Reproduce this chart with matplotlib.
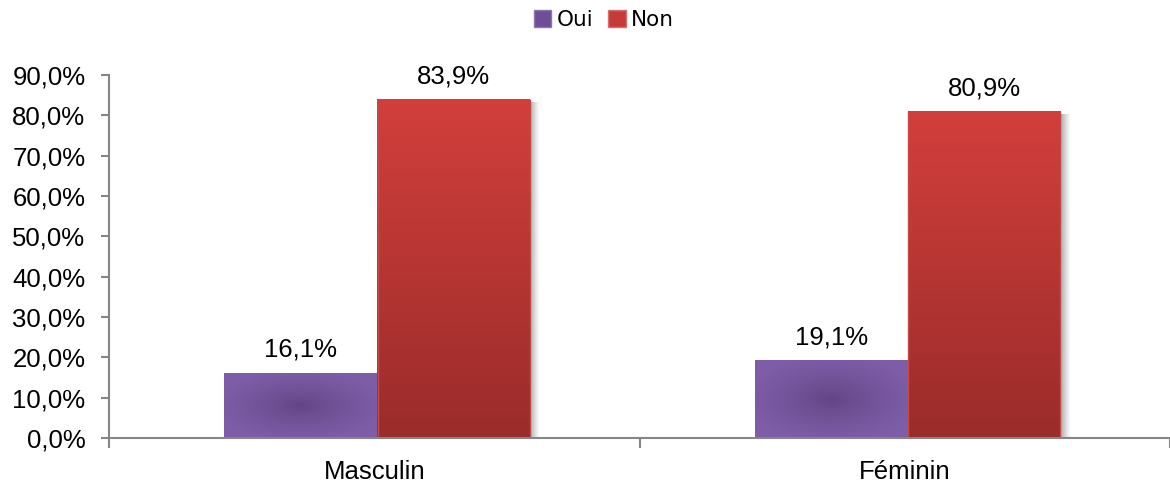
import numpy as np
import matplotlib
matplotlib.use("Agg")
import matplotlib.pyplot as plt
from matplotlib.patches import Patch
from matplotlib.colors import to_rgb

categories = ["Masculin", "Féminin"]
series_names = ["Oui", "Non"]
oui = [16.1, 19.1]
non = [83.9, 80.9]
yticks = [0, 10, 20, 30, 40, 50, 60, 70, 80, 90]

plt.rcParams['font.family'] = ['Liberation Sans', 'DejaVu Sans']
FS = 18.5

fig = plt.figure(figsize=(11.7, 4.84), dpi=100)
ax = fig.add_axes([109/1170, 46/484, 1061/1170, 363/484])

px_per_x = 1061 / len(categories)
px_per_y = 363 / 90

xc = np.arange(len(categories)) + 0.5 + 3 / px_per_x
w = 0.288
ax.set_xlim(0, len(categories))
ax.set_ylim(0, 90)

purple_c = np.array(to_rgb("#624584"))
purple_e = np.array(to_rgb("#7E5DA8"))
red_t = np.array(to_rgb("#D23F3C"))
red_b = np.array(to_rgb("#9A2C2A"))

def radial_img(n=120):
    yy, xx = np.mgrid[-1:1:n*1j, -1:1:n*1j]
    r = np.clip(np.sqrt(xx**2 + yy**2) / 1.1, 0, 1)
    r = r ** 0.8
    img = purple_c[None, None, :] * (1 - r[..., None]) + purple_e[None, None, :] * r[..., None]
    return img

def vert_img(n=200):
    t = np.linspace(0, 1, n)[:, None, None]  # 0 top -> 1 bottom
    img = red_t[None, None, :] * (1 - t) + red_b[None, None, :] * t
    return np.repeat(img, 2, axis=1)

def shadow(x1, top):
    sw = 10 / px_per_x
    g = np.linspace(0.6, 0.0, 30)[None, :] ** 1.2
    rgba = np.zeros((1, 30, 4))
    rgba[..., :3] = 0.42
    rgba[..., 3] = g
    ax.imshow(rgba, extent=[x1, x1 + sw, 0, top - 3 / px_per_y], aspect='auto',
              interpolation='bilinear', zorder=1.5)

def fmt(v):
    return f"{v:.1f}".replace(".", ",") + "%"

for i, c in enumerate(xc):
    x0, x1 = c - w, c
    shadow(x1, oui[i])
    ax.imshow(radial_img(), extent=[x0, x1, 0, oui[i]], aspect='auto',
              interpolation='bilinear', zorder=2)
    x0n, x1n = c, c + w
    shadow(x1n, non[i])
    ax.imshow(vert_img(), extent=[x0n, x1n, 0, non[i]], aspect='auto',
              interpolation='bilinear', zorder=2)
    ax.plot([x0n + 0.5/px_per_x] * 2, [0, non[i]], color="#C44A47", lw=1, zorder=2.5)
    ax.plot([x1n - 0.5/px_per_x] * 2, [0, non[i]], color="#C44A47", lw=1, zorder=2.5)
    ax.annotate(fmt(oui[i]), (c - w/2, oui[i]), xytext=(0, 8), textcoords='offset points',
                ha='center', va='bottom', fontsize=FS, color='black')
    ax.annotate(fmt(non[i]), (c + w/2, non[i]), xytext=(0, 8), textcoords='offset points',
                ha='center', va='bottom', fontsize=FS, color='black')

ax.set_xlim(0, len(categories))
ax.set_ylim(0, 90)

for s in ['top', 'right']:
    ax.spines[s].set_visible(False)
for s in ['left', 'bottom']:
    ax.spines[s].set_color('#868686')
    ax.spines[s].set_linewidth(1.5)
    ax.spines[s].set_zorder(3)

ax.set_yticks(yticks)
ax.set_yticklabels([fmt(v) for v in yticks], fontsize=FS)
ax.tick_params(axis='y', length=6, width=1.5, color='#868686', pad=11)

ax.set_xticks(np.arange(len(categories) + 1))
ax.set_xticklabels([])
ax.set_xticks(np.arange(len(categories)) + 0.5, minor=True)
ax.set_xticklabels(categories, minor=True, fontsize=FS)
ax.tick_params(axis='x', which='major', length=7, width=1.5, color='#868686')
ax.tick_params(axis='x', which='minor', length=0, pad=16)

handles = [Patch(facecolor="#6E4F96", edgecolor="#8E74B4", label="Oui"),
           Patch(facecolor="#C63A38", edgecolor="#D97070", label="Non")]
leg = fig.legend(handles=handles, loc='center', ncol=2, frameon=False,
                 handlelength=0.8, handleheight=0.8, handletextpad=0.25, columnspacing=0.7,
                 prop={'family': 'DejaVu Sans', 'size': 15.5},
                 bbox_to_anchor=(604/1170, 1 - 20/484), bbox_transform=fig.transFigure)

fig.savefig("out.png", dpi=100)
